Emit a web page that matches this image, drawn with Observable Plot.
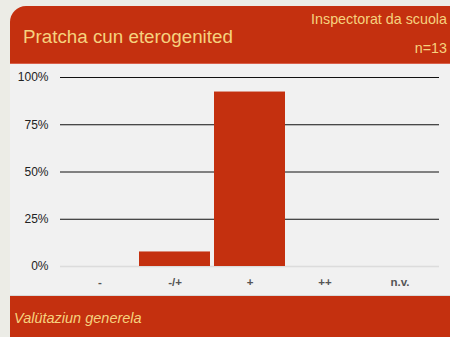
<!DOCTYPE html>
<html><head><meta charset="utf-8">
<script src="https://cdn.jsdelivr.net/npm/d3@7"></script>
<script src="https://cdn.jsdelivr.net/npm/@observablehq/plot@0.6"></script>
<style>
html,body{margin:0;padding:0;background:#ecece6;overflow:hidden;font-family:"Liberation Sans",Arial,sans-serif;}
#card{position:absolute;left:10px;top:6px;width:440px;height:331px;background:#f1f1f1;border-top-left-radius:16px;overflow:hidden;}
#head{position:relative;height:57px;background:#c4300f;border-bottom:1px solid #d9604a;}
#title{position:absolute;left:13px;top:20px;font-size:18.8px;color:#f6d27e;}
#org{position:absolute;right:3px;top:5px;font-size:14.3px;color:#f6d27e;}
#n{position:absolute;right:3px;top:34px;font-size:14.3px;color:#f6d27e;}
#chart{height:231px;}
#foot{height:43px;background:#c4300f;border-top:1px solid #d9d9d9;}
#foot span{display:block;padding:14px 0 0 4px;font-size:14.5px;font-style:italic;color:#f6d27e;}
svg{display:block;}
</style></head><body>
<div id="card">
  <div id="head"><div id="title">Pratcha cun eterogenited</div><div id="org">Inspectorat da scuola</div><div id="n">n=13</div></div>
  <div id="chart"></div>
  <div id="foot"><span>Valütaziun generela</span></div>
</div>
<script>
const categories = ["-", "-/+", "+", "++", "n.v."];
const shares = [0, 1/13, 12/13, 0, 0];
const yTicks = [0, 0.25, 0.5, 0.75, 1];
const data = categories.map((c, i) => ({cat: c, v: shares[i]}));
const chart = Plot.plot({
  width: 440, height: 231,
  marginLeft: 50, marginRight: 11, marginTop: 13, marginBottom: 29,
  style: {background: "transparent", fontFamily: "Liberation Sans, Arial, sans-serif"},
  x: {domain: categories, padding: 0.05, label: null},
  y: {domain: [0, 1], label: null},
  marks: [
    Plot.ruleY(yTicks.filter(d => d > 0), {stroke: "#111", strokeWidth: 1}),
    Plot.ruleY([0], {stroke: "#dcdcdc", strokeWidth: 1.5}),
    Plot.barY(data.filter(d => d.v > 0), {x: "cat", y: "v", fill: "#c4300f"}),
    Plot.axisY({ticks: yTicks, tickFormat: d => Math.round(d * 100) + "%", tickSize: 0, tickPadding: 12, fontSize: 12, fill: "#222", label: null}),
    Plot.axisX({tickSize: 0, tickPadding: 11, fontSize: 11.5, fill: "#555", fontWeight: "bold", label: null})
  ]
});
document.getElementById("chart").appendChild(chart);
</script>
</body></html>
